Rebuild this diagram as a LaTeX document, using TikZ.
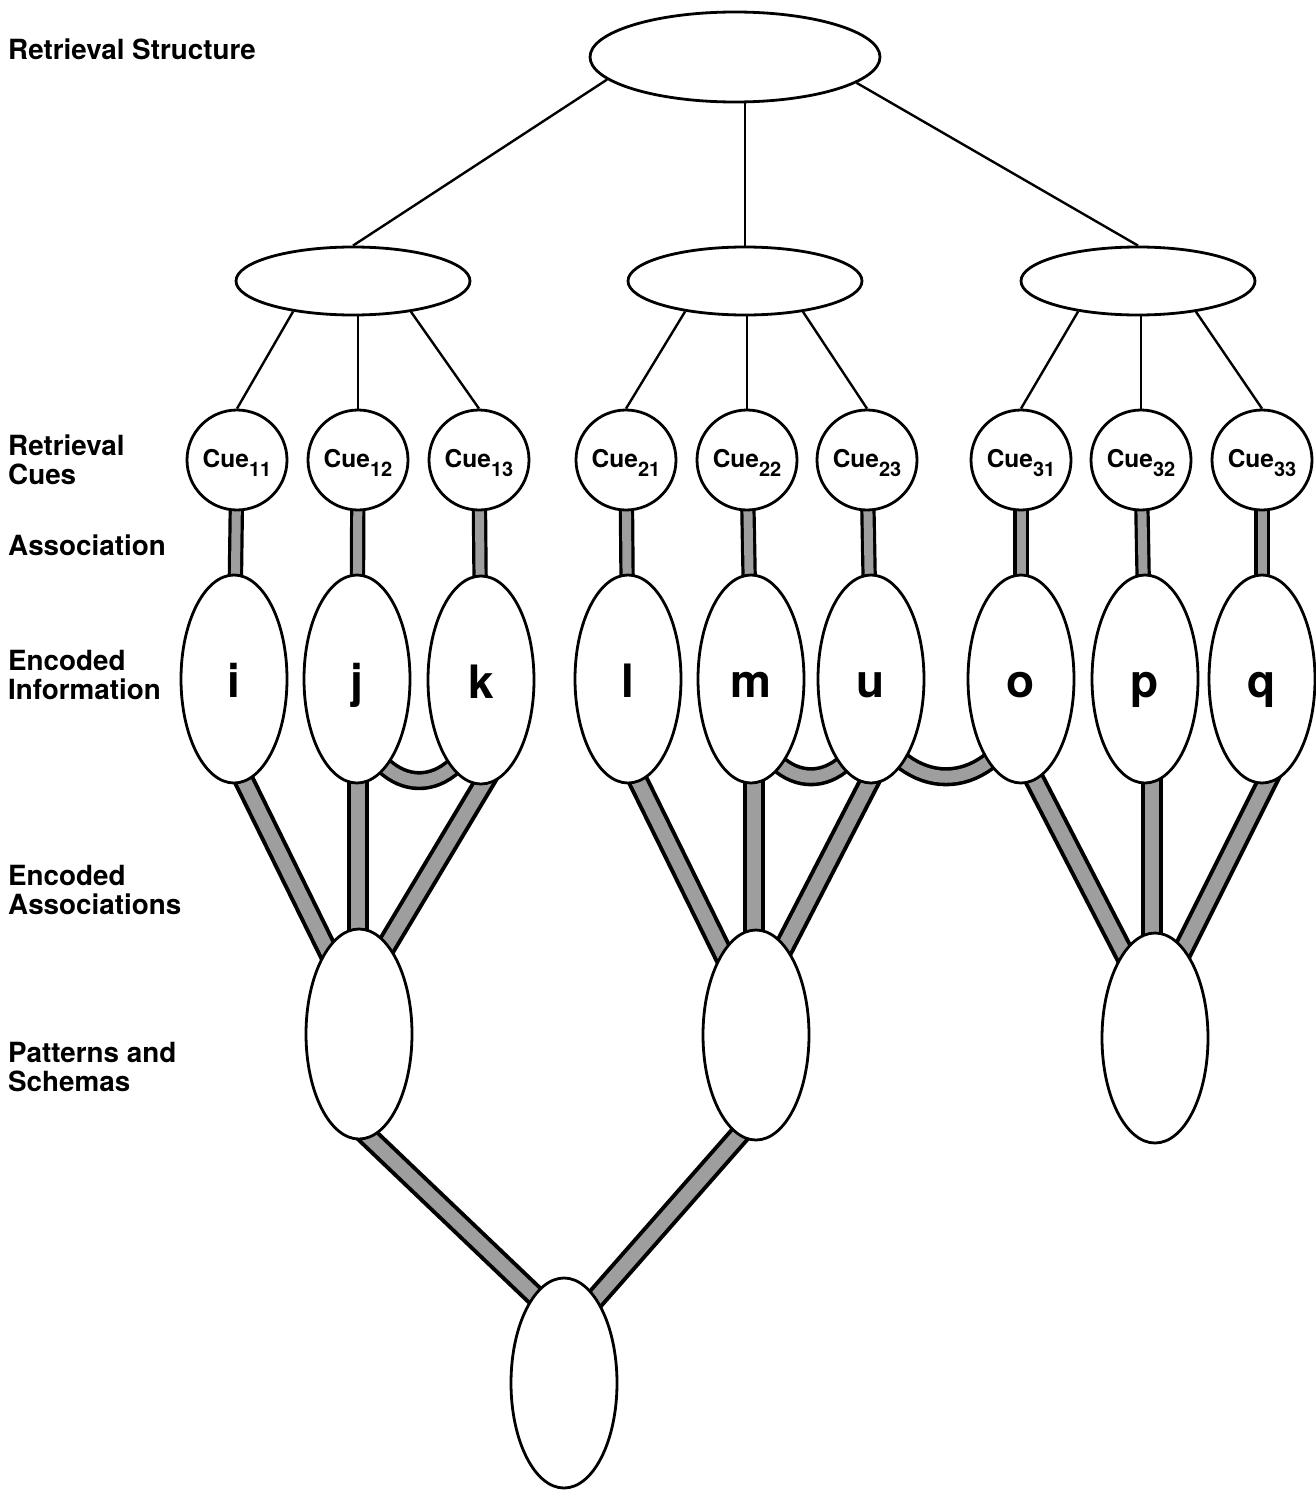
\documentclass[tikz,border=0pt]{standalone}
\usepackage{fontspec}
\setmainfont{TeX Gyre Heros}
\usetikzlibrary{shapes.geometric,calc}
\pgfdeclarelayer{background}
\pgfsetlayers{background,main}
\newcommand\cuetxt[1]{Cue\raisebox{-9pt}{\fontsize{20}{20}\selectfont #1}}
\begin{document}
\begin{tikzpicture}[x=1pt,y=-1pt,
  outl/.style={draw, line width=2.8pt, fill=white, inner sep=0pt},
  oval/.style={outl, ellipse},
  info/.style={oval, minimum width=106pt, minimum height=208pt, text height=40pt, text depth=4pt, font=\fontsize{46}{46}\selectfont\bfseries},
  pat/.style={oval, minimum width=106pt, minimum height=210pt},
  lvl/.style={oval, minimum width=234pt, minimum height=68pt},
  cue/.style={outl, circle, minimum size=100pt, text height=22pt, text depth=8pt, font=\fontsize{24.5}{24.5}\selectfont\bfseries},
  thin/.style={line width=2.4pt},
  assoc/.style={line width=3.2pt, double=black!38, double distance=9pt},
  enc/.style={line width=4pt, double=black!38, double distance=14pt},
  band/.style={line width=3.6pt, double=black!38, double distance=12pt},
  lab/.style={anchor=base west, inner sep=0pt, font=\fontsize{27.8}{28.5}\selectfont\bfseries}
]
\useasboundingbox (0,0) rectangle (1316,1490);

% labels
\node[lab] (lrs) at (8,60) {Retrieval Structure};
\node[lab] (lrc) at (8,455) {\begin{tabular}[t]{@{}l@{}}Retrieval\\Cues\end{tabular}};
\node[lab] (las) at (8,555) {Association};
\node[lab] (lei) at (8,670) {\begin{tabular}[t]{@{}l@{}}Encoded\\Information\end{tabular}};
\node[lab] (lea) at (8,885) {\begin{tabular}[t]{@{}l@{}}Encoded\\Associations\end{tabular}};
\node[lab] (lps) at (8,1062) {\begin{tabular}[t]{@{}l@{}}Patterns and\\Schemas\end{tabular}};

% retrieval structure
\node[oval, minimum width=290pt, minimum height=90pt] (T) at (735,57) {};
\node[lvl] (L) at (353,281) {};
\node[lvl] (M) at (745,281) {};
\node[lvl] (R) at (1138,281) {};

% cues
\node[cue] (c11) at (237,460) {\cuetxt{11}};
\node[cue] (c12) at (358,460) {\cuetxt{12}};
\node[cue] (c13) at (479,460) {\cuetxt{13}};
\node[cue] (c21) at (626,460) {\cuetxt{21}};
\node[cue] (c22) at (747,460) {\cuetxt{22}};
\node[cue] (c23) at (867,460) {\cuetxt{23}};
\node[cue] (c31) at (1021,460) {\cuetxt{31}};
\node[cue] (c32) at (1141,460) {\cuetxt{32}};
\node[cue] (c33) at (1262,460) {\cuetxt{33}};

% encoded information
\node[info] (i) at (234,679) {i};
\node[info] (j) at (357,679) {j};
\node[info] (k) at (481,680) {k};
\node[info] (l) at (628,679) {l};
\node[info] (m) at (751,679) {m};
\node[info] (u) at (871,679) {u};
\node[info] (o) at (1021,679) {o};
\node[info] (p) at (1145,679) {p};
\node[info] (q) at (1262,679) {q};

% patterns and schemas
\node[pat] (P1) at (359,1034) {};
\node[pat] (P2) at (756,1035) {};
\node[pat] (P3) at (1155,1038) {};
\node[pat] (B) at (564,1383) {};

\begin{pgfonlayer}{background}
% thin lines
\draw[thin] (T.190) -- (L.north);
\draw[thin] (M.north |- T.south) -- (M.north);
\draw[thin] (T.348) -- (R.north);
\foreach \g/\a/\b/\c in {L/c11/c12/c13, M/c21/c22/c23, R/c31/c32/c33}{
  \draw[thin] (\g.207.5) -- (\a.north);
  \draw[thin] (\b.north |- \g.south) -- (\b.north);
  \draw[thin] (\g.332.5) -- (\c.north);
}
% associations
\foreach \c/\e in {c11/i, c12/j, c13/k, c21/l, c22/m, c23/u, c31/o, c32/p, c33/q}
  \draw[assoc] (\c.center) -- (\e.center);
% encoded associations
\draw[enc] ($(i)+(-10,61)$) -- ($(P1)+(-12,-44)$);
\draw[enc] ($(j)+(1,61)$) -- ($(P1)+(-1,-44)$);
\draw[enc] ($(k)+(28,61)$) -- ($(P1)+(1,-44)$);
\draw[enc] ($(l)+(-10,61)$) -- ($(P2)+(-15,-45)$);
\draw[enc] ($(m)+(3,61)$) -- ($(P2)+(-2,-45)$);
\draw[enc] ($(u)+(20,61)$) -- ($(P2)+(6,-45)$);
\draw[enc] ($(o)+(-7,61)$) -- ($(P3)+(-12,-48)$);
\draw[enc] ($(p)+(7,61)$) -- ($(P3)+(-3,-48)$);
\draw[enc] ($(q)+(26,61)$) -- ($(P3)+(8,-48)$);
\draw[enc] ($(P1)+(-29,66)$) -- ($(B)+(7,-53)$);
\draw[enc] ($(P2)+(14,65)$) -- ($(B)+(4,-53)$);
% bands
\draw[band] ($(j)+(0,40)$) .. controls ($(j)+(25,122)$) and ($(k)+(-25,121)$) .. ($(k)+(0,40)$);
\draw[band] ($(m)+(0,40)$) .. controls ($(m)+(25,117)$) and ($(u)+(-25,117)$) .. ($(u)+(0,40)$);
\draw[band] ($(u)+(0,40)$) .. controls ($(u)+(35,117)$) and ($(o)+(-35,117)$) .. ($(o)+(0,40)$);
\end{pgfonlayer}
\end{tikzpicture}
\end{document}
